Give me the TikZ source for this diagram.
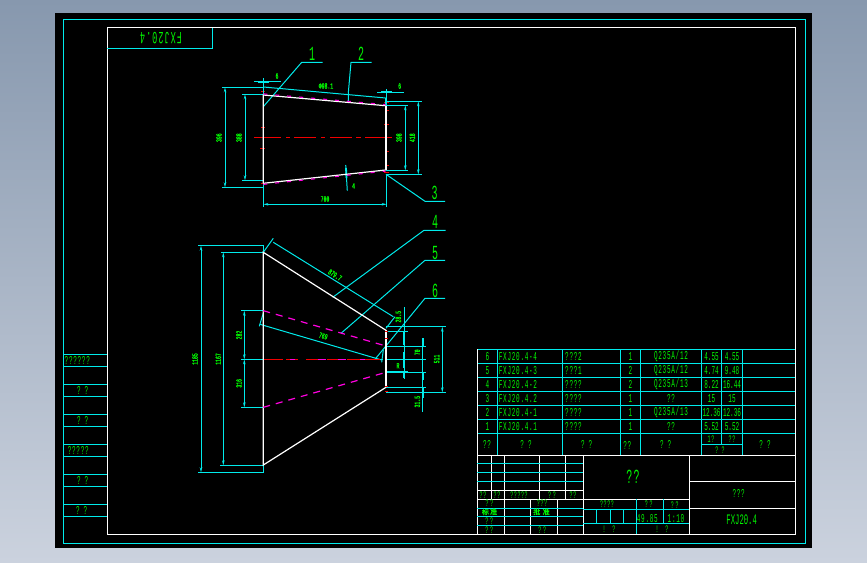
\documentclass[tikz,border=0pt]{standalone}
\usepackage{fontspec}
\usetikzlibrary{arrows.meta}
\newfontfamily\cadfont[FakeStretch=0.5,LetterSpace=6]{Liberation Mono}
\newfontfamily\cadnarrow[FakeStretch=0.5]{Liberation Mono}
\newfontfamily\cadbold[FakeStretch=0.6,FakeBold=1.5]{Liberation Mono}
\newfontfamily\cadcjk[FakeBold=2]{Noto Sans CJK SC}
\definecolor{cadcyan}{HTML}{00EBEB}
\definecolor{cadgreen}{HTML}{00F500}
\definecolor{cadmag}{HTML}{FF00E0}
\definecolor{cadred}{HTML}{F00000}
\definecolor{bgtop}{HTML}{8798AE}
\definecolor{bgbot}{HTML}{CBD2DE}
\tikzset{
  cy/.style={draw=cadcyan,line width=1pt},
  wh/.style={draw=white,line width=1pt},
  whk/.style={draw=white,line width=1.2pt},
  dimline/.style={draw=cadcyan,line width=1pt,{Stealth[length=5pt,width=2.5pt]}-{Stealth[length=5pt,width=2.5pt]}},
  mag/.style={draw=cadmag,line width=1.1pt,dash pattern=on 4pt off 8pt},
  redc/.style={draw=cadred,line width=1pt},
  tx/.style={text=cadgreen,inner sep=0pt,font=\cadfont\fontsize{12}{12}\selectfont},
  txn/.style={text=cadgreen,inner sep=0pt,font=\cadnarrow\fontsize{12}{12}\selectfont},
  txs/.style={text=cadgreen,inner sep=0pt,font=\cadfont\fontsize{10}{10}\selectfont},
  txl/.style={tx,anchor=west},
  big/.style={text=cadgreen,inner sep=0pt,font=\cadnarrow\fontsize{20}{20}\selectfont},
  dm/.style={text=cadgreen,inner sep=0pt,font=\cadbold\fontsize{8}{8}\selectfont},
  cj/.style={text=cadgreen,inner sep=0pt,font=\cadcjk\fontsize{7}{7}\selectfont},
}
\begin{document}
\begin{tikzpicture}[x=1pt,y=-1pt]
\useasboundingbox (0,0) rectangle (867,562);
\shade[top color=bgtop,bottom color=bgbot] (0,0) rectangle (867,562);
\fill[black] (55,13) rectangle (812,548);
% frames
\draw[cy] (63,19) rectangle (805,543);
\draw[wh] (107,534) -- (107,27.5) -- (795,27.5) -- (795,534) -- cycle;
\draw[cy] (107,48.3) -- (212.3,48.3) -- (212.3,27.5);
\node[tx,rotate=180,font=\cadfont\fontsize{17}{17}\selectfont] (code) at (161,38) {FXJ20.4};
% left strip
\foreach \y in {354.3,366.3,384.3,396.3,414.3,426.3,444.3,456.3,474.3,486.3,504.3,516.3}
  \draw[cy] (63,\y) -- (107,\y);
\node[tx] (s1) at (77.3,360) {??????};
\node[tx] (s2) at (82.7,390) {?\,\,?};
\node[tx] (s3) at (82.7,420.3) {?\,\,?};
\node[tx] (s4) at (78.3,450.3) {?????};
\node[tx] (s5) at (82.7,480.3) {?\,\,?};
\node[tx] (s6) at (81.7,510.3) {?\,\,?};
% parts table
\foreach \y in {349.3,363.3,377.3,391.3,405.3,419.3,433.3}
  \draw[cy] (477.3,\y) -- (795,\y);
\foreach \x in {497.5,562.3,620.3,640.3,701.3,742.3}
  \draw[cy] (\x,349.3) -- (\x,455.3);
\draw[cy] (721.7,349.3) -- (721.7,444.3);
\draw[cy] (701.3,444.3) -- (742.3,444.3);
\draw[wh] (477.3,349.3) -- (477.3,534) -- (795,534);
\draw[wh] (477.3,455.3) -- (795,455.3);
\foreach \y/\n/\code/\mk/\qty/\mat/\ua/\ub in {
 356.5/6/FXJ20.4-4/???2/1/{Q235A/12}/4.55/4.55,
 370.5/5/FXJ20.4-3/???1/2/{Q235A/12}/4.74/9.48,
 384.5/4/FXJ20.4-2/????/2/{Q235A/13}/8.22/16.44,
 398.5/3/FXJ20.4.2/????/1/??/15/15,
 412.5/2/FXJ20.4-1/????/1/{Q235A/13}/12.36/12.36,
 426.5/1/FXJ20.4.1/????/1/??/5.52/5.52}{
  \node[tx] at (487.5,\y) {\n};
  \node[txl] at (498.7,\y) {\code};
  \node[txl] at (565,\y) {\mk};
  \node[tx] at (630.3,\y) {\qty};
  \node[tx] at (671,\y) {\mat};
  \node[txn] at (711.5,\y) {\ua};
  \node[txn] at (732,\y) {\ub};
}
\node[tx] (h1) at (487,444) {??};
\node[tx] (h2) at (526,444) {?\,\,?};
\node[tx] (h3) at (586.7,444) {?\,\,?};
\node[tx] (h4) at (627.3,445) {??};
\node[tx] (h5) at (665.7,444) {?\,\,?};
\node[txs] (h6) at (711,438.8) {1?};
\node[txs] (h7) at (732,438.8) {??};
\node[txs] (h8) at (720,450) {?\,\,?};
\node[tx] (h9) at (765,444) {?\,\,?};
% title block, white grid
\foreach \x in {491.3,539.3,565.3}
  \draw[wh] (\x,455.3) -- (\x,499.3);
\draw[wh] (504.3,455.3) -- (504.3,534);
\draw[wh] (583.3,455.3) -- (583.3,534);
\draw[wh] (689.3,455.3) -- (689.3,534);
\draw[wh] (530.3,499.3) -- (530.3,534);
\draw[wh] (557.3,499.3) -- (557.3,534);
\draw[wh] (477.3,490.3) -- (583.3,490.3);
\draw[wh] (477.3,499.3) -- (689.3,499.3);
\draw[wh] (689.3,481.3) -- (795,481.3);
\draw[wh] (689.3,508.3) -- (795,508.3);
\foreach \y in {463.3,472.3,481.3,508.3,516.3,525.3}
  \draw[cy] (477.3,\y) -- (583.3,\y);
\draw[cy] (583.3,509.3) -- (689.3,509.3);
\draw[cy] (583.3,523.3) -- (689.3,523.3);
\draw[cy] (636,499.3) -- (636,534);
\draw[cy] (663.3,499.3) -- (663.3,523.3);
\foreach \x in {596.3,610.3,623.3}
  \draw[cy] (\x,509.3) -- (\x,523.3);
% title block text
\node[tx,font=\cadfont\fontsize{20}{20}\selectfont] (t1) at (633,477) {??};
\node[tx] (t2) at (738.7,493) {???};
\node[tx,font=\cadnarrow\fontsize{14.5}{14.5}\selectfont] (t3) at (741.7,520) {FXJ20.4};
\node[txs] (t4) at (483,494.8) {??};
\node[txs] (t5) at (497,494.8) {??};
\node[txs] (t6) at (519,494.8) {?????};
\node[txs] (t7) at (552,494.8) {?\,?};
\node[txs] (t8) at (573,494.8) {??};
\node[txs] (t9) at (489.5,503.5) {?\,?};
\node[txs] (t10) at (542,503.5) {???};
\node[cj] (t11) at (489.5,511.8) {标\,准};
\node[cj] (t12) at (541.5,511.8) {批\,\,准};
\node[txs] (t13) at (489.3,521) {?\,?};
\node[txs] (t14) at (489.3,529.7) {?\,?};
\node[txs] (t15) at (542.3,529.7) {?\,?};
\node[txs] (t16) at (607,504) {????};
\node[txs] (t17) at (648.7,504) {?\,?};
\node[txs] (t18) at (674.7,504.7) {?\,?};
\node[tx] (t19) at (647.3,518.3) {49.85};
\node[tx] (t20) at (676,518.3) {1:10};
\node[txs] (t21) at (609,529) {!\,\,\,\,?};
\node[txs] (t22) at (662,529) {!\,\,\,\,?};
% ===== upper view
\draw[redc] (254,137.3) -- (281,137.3) (286,137.3) -- (290,137.3) (294,137.3) -- (316,137.3) (321,137.3) -- (325,137.3) (330,137.3) -- (352,137.3) (356,137.3) -- (361,137.3) (365,137.3) -- (392,137.3);
\foreach \a/\b/\y in {261/265/91.7,261/265/127.3,260/265/148.3,261/265/183,384/389/102.3,385/389/110.3,384/389/124.3,385/389/151.3,385/389/165.3,384/389/172.3}
  \draw[redc] (\a,\y) -- (\b,\y);
% cyan dims upper
\coordinate (ua) at (263.3,95);
\coordinate (ub) at (385.7,105.7);
\coordinate (uc) at (385.7,170);
\coordinate (ud) at (263.3,183.3);
\draw[cy] (222.3,87.3) -- (263.3,87.3) (222.3,187.3) -- (263.3,187.3);
\draw[dimline] (225,87.3) -- (225,187.3);
\draw[cy] (242.3,94.3) -- (263.3,94.3) (242.3,180.3) -- (263.3,180.3);
\draw[dimline] (245,94.3) -- (245,180.3);
\draw[cy] (385.7,105.3) -- (407.7,105.3) (385.7,170.3) -- (407.7,170.3);
\draw[dimline] (405.3,105.3) -- (405.3,170.3);
\draw[cy] (385.7,101.3) -- (421.7,101.3) (385.7,174.3) -- (421.7,174.3);
\draw[dimline] (418.3,101.3) -- (418.3,174.3);
\draw[cy] (263.3,183.3) -- (263.3,207.3) (386.7,174.3) -- (386.7,207.3);
\draw[dimline] (263.3,204.3) -- (386.7,204.3);
\draw[cy] (263.3,78.3) -- (263.3,95) (254.3,81.7) -- (281,81.7);
\draw[cy,line width=2pt] (258,81.7) -- (269,81.7);
\draw[cy] (386,89.3) -- (386,105.7) (377,92.3) -- (404,92.3);
\draw[cy,line width=2pt] (381,92.3) -- (392,92.3);
\draw[cy] (263.3,87) -- (385.7,98);
\draw[cy] (385.7,98) -- (385.7,105);
\draw[cy] (345.7,165) -- (347.3,190.7);
\draw[cy,line width=1.8pt] (346,168) -- (346.5,178);
% leaders upper
\coordinate (l1) at (263.3,106.7);
\draw[cy] (l1) -- (301.7,62.3) -- (322.7,62.3);
\draw[cy] (348.3,102.5) -- (348.3,93) -- (351,62.3) -- (371.7,62.3);
\draw[cy] (386,174.3) -- (425,201.3) -- (445,201.3);
% object upper
\draw[whk] (ud) -- (ua) -- (ub);
\draw[whk] (ud) -- (uc);
\draw[white,line width=2pt] (ub) -- (uc);
\draw[mag] ([yshift=1.1pt]ua) -- ([yshift=1.1pt]ub);
\draw[mag] ([yshift=-1.1pt]ud) -- ([yshift=-1.1pt]uc);
% ===== lower view
\coordinate (la) at (263.3,252.3);
\coordinate (lb) at (386,330.3);
\coordinate (lc) at (386,387.3);
\coordinate (ld) at (263.3,465);
\draw[cy] (198.3,245.7) -- (263.3,245.7) -- (263.3,472.3) -- (198.3,472.3);
\draw[dimline] (201,245.7) -- (201,472.3);
\draw[cy] (221,252.3) -- (263.3,252.3) (220,465.3) -- (263.3,465.3);
\draw[dimline] (223.3,252.3) -- (223.3,465.3);
\draw[cy] (241,310.7) -- (263.3,310.7) (241,407.3) -- (263.3,407.3) (241,359.3) -- (263.3,359.3);
\draw[dimline] (244.3,310.7) -- (244.3,359.3);
\draw[dimline] (244.3,359.3) -- (244.3,407.3);
% right dims
\draw[cy] (386,326.7) -- (445.7,326.7) (386,392.3) -- (445.7,392.3);
\draw[dimline] (442.3,326.7) -- (442.3,392.3);
\draw[cy] (386,331.7) -- (407.7,331.7);
\draw[cy] (386,346.3) -- (425.7,346.3) (386,359.3) -- (425.7,359.3) (386,372.3) -- (425.7,372.3) (386,387.3) -- (425.7,387.3);
\draw[cy,line width=1.6pt] (386,371.7) -- (407.7,371.7);
\draw[cy] (404.3,307.3) -- (404.3,379);
\draw[cy,line width=1.8pt] (404.3,331.7) -- (404.3,345) (404.3,352) -- (404.3,368) (404.3,372) -- (404.3,378);
\draw[cy] (422.7,338.3) -- (422.7,411.7);
\draw[cy,line width=1.8pt] (422.7,338.3) -- (422.7,346.3) (422.7,372.3) -- (422.7,380) (422.7,387.3) -- (422.7,398);
% slanted dim
\draw[cy] (263.3,252.3) -- (273.3,238.3);
\draw[cy] (273.3,242.3) -- (393.3,316.7);
\draw[cy] (386,328.3) -- (395,316.7);
\draw[cy] (259.3,326.3) -- (263.3,313);
\draw[cy] (260,324.3) -- (381.7,360);
\draw[cy] (381.7,362.3) -- (383.3,350);
% leaders lower
\draw[cy] (332.7,297.3) -- (424,230.3) -- (445.7,230.3);
\draw[cy] (341,333.3) -- (425,260.3) -- (445,260.3);
\draw[cy] (375,359.3) -- (425,298.3) -- (445,298.3);
% centre line lower
\draw[cy] (241,359.3) -- (263.3,359.3) (375,359.3) -- (383,359.3);
\draw[redc] (263.3,359.3) -- (283,359.3) (286,359.3) -- (298,359.3) (306,359.3) -- (318,359.3) (327,359.3) -- (338,359.3) (347,359.3) -- (360,359.3) (365,359.3) -- (380,359.3);
\draw[draw=cadmag,line width=1pt] (290,359.3) -- (295,359.3) (318,359.3) -- (326,359.3) (338,359.3) -- (346,359.3) (360,359.3) -- (365,359.3);
% object lower
\draw[whk] (lb) -- (la) -- (ld) -- (lc);
\draw[white,line width=1.8pt] (lb) -- (lc);
\draw[draw=cadmag,line width=1.2pt,dash pattern=on 7pt off 6pt] (263.3,310.7) -- (386,346);
\draw[draw=cadmag,line width=1.2pt,dash pattern=on 7pt off 6pt] (263.3,407.3) -- (386,372.3);
\foreach \y in {331.7,338,386,391}
  \draw[redc] (385,\y) -- (388,\y);
% numbers
\node[big] (n1) at (312,54) {1};
\node[big] (n2) at (361,54) {2};
\node[big] (n3) at (434.5,193) {3};
\node[big] (n4) at (435,222) {4};
\node[big] (n5) at (435,253) {5};
\node[big] (n6) at (435,291) {6};
% dimension text
\node[dm,rotate=90] (d1) at (219,137.7) {396};
\node[dm,rotate=90] (d2) at (239,137.7) {388};
\node[dm,rotate=90] (d3) at (399,137.7) {398};
\node[dm,rotate=90] (d4) at (412.3,137.7) {418};
\node[dm] (d5) at (325,199) {700};
\node[dm] (d6) at (277,76) {6};
\node[dm] (d7) at (399.7,86) {6};
\node[dm] (d8) at (326,86) {Ф98.1};
\node[dm] (d9) at (353.5,186) {4};
\node[dm,rotate=-32] (d10) at (335,275) {879.7};
\node[dm,rotate=-16] (d11) at (323.3,336) {769};
\node[dm,rotate=90] (d12) at (398.3,316.7) {28.5};
\node[dm,rotate=90] (d13) at (195,359) {1185};
\node[dm,rotate=90] (d14) at (218.3,359) {1167};
\node[dm,rotate=90] (d15) at (239,335) {282};
\node[dm,rotate=90] (d16) at (239,383.3) {316};
\node[dm,rotate=90] (d17) at (417.3,352.3) {70};
\node[dm] (d18) at (398,365.7) {R};
\node[dm,rotate=90] (d19) at (436.7,359) {511};
\node[dm,rotate=90] (d20) at (417.3,401.7) {31.5};
\end{tikzpicture}
\end{document}
